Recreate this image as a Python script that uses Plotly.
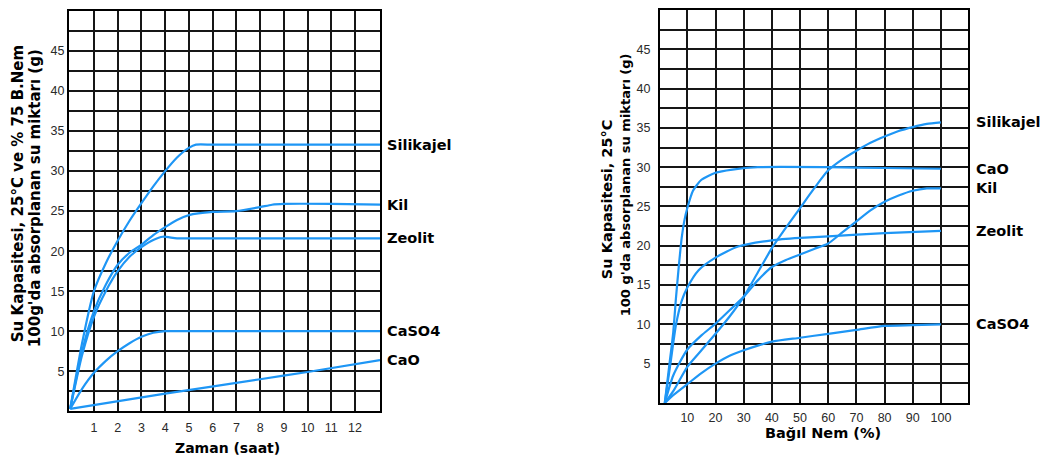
import plotly.graph_objects as go

# ---------------- Data: left chart (time, hours) ----------------
zaman_silikajel_x = [0, 0.5, 1, 1.5, 2, 2.5, 3, 3.5, 4, 4.5, 5, 5.3, 6, 9, 13.05]
zaman_silikajel_y = [0.3, 8.5, 15, 18.5, 21.3, 23.8, 26, 28.1, 30, 31.7, 32.9, 33.3, 33.3, 33.3, 33.3]

zaman_kil_x = [0, 0.5, 1, 1.5, 2, 2.5, 3, 3.5, 4, 4.5, 5, 6, 7, 8, 8.5, 9, 11, 13.05]
zaman_kil_y = [0.3, 7.5, 12.5, 15.8, 18.3, 19.8, 20.8, 22, 23, 23.9, 24.5, 24.9, 25.0, 25.5, 25.8, 25.9, 25.9, 25.8]

zaman_zeolit_x = [0, 0.5, 1, 1.5, 2, 2.5, 3, 3.5, 3.9, 4.5, 6, 9, 13.05]
zaman_zeolit_y = [0.3, 7, 11.8, 15, 17.5, 19.3, 20.5, 21.4, 21.8, 21.6, 21.6, 21.6, 21.6]

zaman_caso4_x = [0, 0.5, 1, 1.5, 2, 2.5, 3, 3.5, 4, 5, 8, 13.05]
zaman_caso4_y = [0.3, 2.8, 4.8, 6.3, 7.5, 8.5, 9.3, 9.8, 10, 10, 10, 10]

zaman_cao_x = [0, 4, 8, 10, 13.05]
zaman_cao_y = [0.3, 2.2, 4.0, 4.9, 6.4]

# ---------------- Data: right chart (relative humidity, %) ----------------
nem_silikajel_x = [2, 5, 10, 15, 20, 25, 30, 35, 40, 45, 50, 55, 60, 65, 70, 75, 80, 85, 90, 95, 100]
nem_silikajel_y = [0, 1.5, 4.6, 6.7, 8.8, 11, 13.5, 16.6, 19.7, 22.3, 24.8, 27.3, 29.6, 31, 32.1, 33.1, 33.9, 34.6, 35.1, 35.5, 35.7]

nem_cao_x = [2, 3.5, 5, 6, 7, 8, 9, 10, 12, 15, 20, 26, 35, 60, 80, 100]
nem_cao_y = [0, 4.5, 9, 13.5, 17.5, 21, 23.3, 24.8, 27, 28.4, 29.3, 29.7, 30, 30, 29.9, 29.8]

nem_kil_x = [2, 5, 10, 15, 20, 25, 30, 35, 40, 45, 50, 55, 60, 65, 70, 75, 80, 85, 90, 95, 100]
nem_kil_y = [0, 3.5, 6.8, 8.6, 10.1, 11.8, 13.5, 15.6, 17.3, 18.2, 18.9, 19.6, 20.3, 21.7, 23.1, 24.5, 25.6, 26.4, 27, 27.3, 27.3]

nem_zeolit_x = [2, 4, 6, 8, 10, 14, 20, 28, 40, 50, 60, 80, 100]
nem_zeolit_y = [0, 5, 10, 13, 14.7, 16.9, 18.5, 19.9, 20.7, 21, 21.2, 21.6, 21.9]

nem_caso4_x = [2, 5, 10, 15, 20, 25, 30, 35, 40, 50, 60, 70, 80, 90, 100]
nem_caso4_y = [0, 1, 2.4, 3.8, 5, 6, 6.7, 7.3, 7.8, 8.3, 8.8, 9.3, 9.8, 9.9, 10]

left_series = [
    ("Silikajel", zaman_silikajel_x, zaman_silikajel_y),
    ("Kil", zaman_kil_x, zaman_kil_y),
    ("Zeolit", zaman_zeolit_x, zaman_zeolit_y),
    ("CaSO4", zaman_caso4_x, zaman_caso4_y),
    ("CaO", zaman_cao_x, zaman_cao_y),
]
right_series = [
    ("Silikajel", nem_silikajel_x, nem_silikajel_y),
    ("CaO", nem_cao_x, nem_cao_y),
    ("Kil", nem_kil_x, nem_kil_y),
    ("Zeolit", nem_zeolit_x, nem_zeolit_y),
    ("CaSO4", nem_caso4_x, nem_caso4_y),
]

left_xticks = list(range(1, 13))
right_xticks = list(range(10, 101, 10))
yticks = list(range(5, 50, 5))

# ---------------- Figure ----------------
W, H = 1050, 459
OFF = 8  # the page body margin shifts the figure by 8px right/down
LINE = "#1e96f5"
GRID = "#161616"
BOLD = "DejaVu Sans"

def px(x):
    return min(1.0, max(0.0, (x - OFF) / W))

def py(y):
    return min(1.0, max(0.0, 1 - (y - OFF) / H))

fig = go.Figure()
for name, xs, ys in left_series:
    fig.add_trace(go.Scatter(x=xs, y=ys, mode="lines", name=name, xaxis="x", yaxis="y",
                             line=dict(color=LINE, width=2.2, shape="spline", smoothing=0.6),
                             showlegend=False, hoverinfo="skip"))
for name, xs, ys in right_series:
    fig.add_trace(go.Scatter(x=xs, y=ys, mode="lines", name=name, xaxis="x2", yaxis="y2",
                             line=dict(color=LINE, width=2.2, shape="spline", smoothing=0.6),
                             showlegend=False, hoverinfo="skip"))

tickfont = dict(family="Liberation Sans, Arial, sans-serif", size=12.5, color="#2a2a2a")

def xaxis_cfg(domain, rng, ticks, anchor, standoff):
    return dict(domain=domain, range=rng, anchor=anchor, tickmode="array", tickvals=ticks,
                ticktext=[str(t) for t in ticks], showgrid=True, gridcolor=GRID, gridwidth=1.6,
                zeroline=False, showline=True, mirror=True, linecolor="black", linewidth=2,
                ticks="", tickfont=tickfont, ticklabelstandoff=standoff, fixedrange=True)

def yaxis_cfg(domain, anchor, standoff):
    return dict(domain=domain, range=[0, 50], anchor=anchor, tickmode="array", tickvals=yticks,
                ticktext=[str(t) for t in yticks], showgrid=True, gridcolor=GRID, gridwidth=1.6,
                minor=dict(dtick=2.5, tick0=0, showgrid=True, gridcolor=GRID, gridwidth=1.6),
                zeroline=False, showline=True, mirror=True, linecolor="black", linewidth=2,
                ticks="", tickfont=tickfont, ticklabelstandoff=standoff, fixedrange=True)

fig.update_layout(
    width=W, height=H, margin=dict(l=0, r=0, t=0, b=0),
    paper_bgcolor="white", plot_bgcolor="white",
    xaxis=xaxis_cfg([px(69), px(380)], [-0.05, 13.05], left_xticks, "y", 4),
    yaxis=yaxis_cfg([py(411), py(9)], "x", 0),
    xaxis2=xaxis_cfg([px(660), px(967.7)], [0.3, 109.5], right_xticks, "y2", 2),
    yaxis2=yaxis_cfg([py(402.7), py(7.3)], "x2", 5),
)

annotations = []
# curve labels at the end value of each series
for name, xs, ys in left_series:
    annotations.append(dict(text=name, xref="paper", yref="y", x=px(385), y=ys[-1],
                            xanchor="left", yanchor="middle", showarrow=False,
                            font=dict(family=BOLD, size=14.5, color="black", weight="bold")))
for name, xs, ys in right_series:
    annotations.append(dict(text=name, xref="paper", yref="y2", x=px(974), y=ys[-1],
                            xanchor="left", yanchor="middle", showarrow=False,
                            font=dict(family=BOLD, size=14.5, color="black", weight="bold")))

def title(text, x, y, size, angle=0):
    return dict(text=text, xref="paper", yref="paper", x=px(x), y=py(y), xanchor="center",
                yanchor="middle", showarrow=False, textangle=angle,
                font=dict(family=BOLD, size=size, color="black", weight="bold"))

annotations += [
    title("Su Kapasitesi, 25°C ve % 75 B.Nem", 18, 193, 15, -90),
    title("100g'da absorplanan su miktarı (g)", 35, 197, 15, -90),
    title("Su Kapasitesi, 25°C", 607, 198, 14.5, -90),
    title("100 g'da absorplanan su miktarı (g)", 625, 184, 13, -90),
    title("Zaman (saat)", 227, 448, 14),
    title("Bağıl Nem (%)", 823, 433, 14.5),
]
fig.update_layout(annotations=annotations)

fig.write_html("out.html")
